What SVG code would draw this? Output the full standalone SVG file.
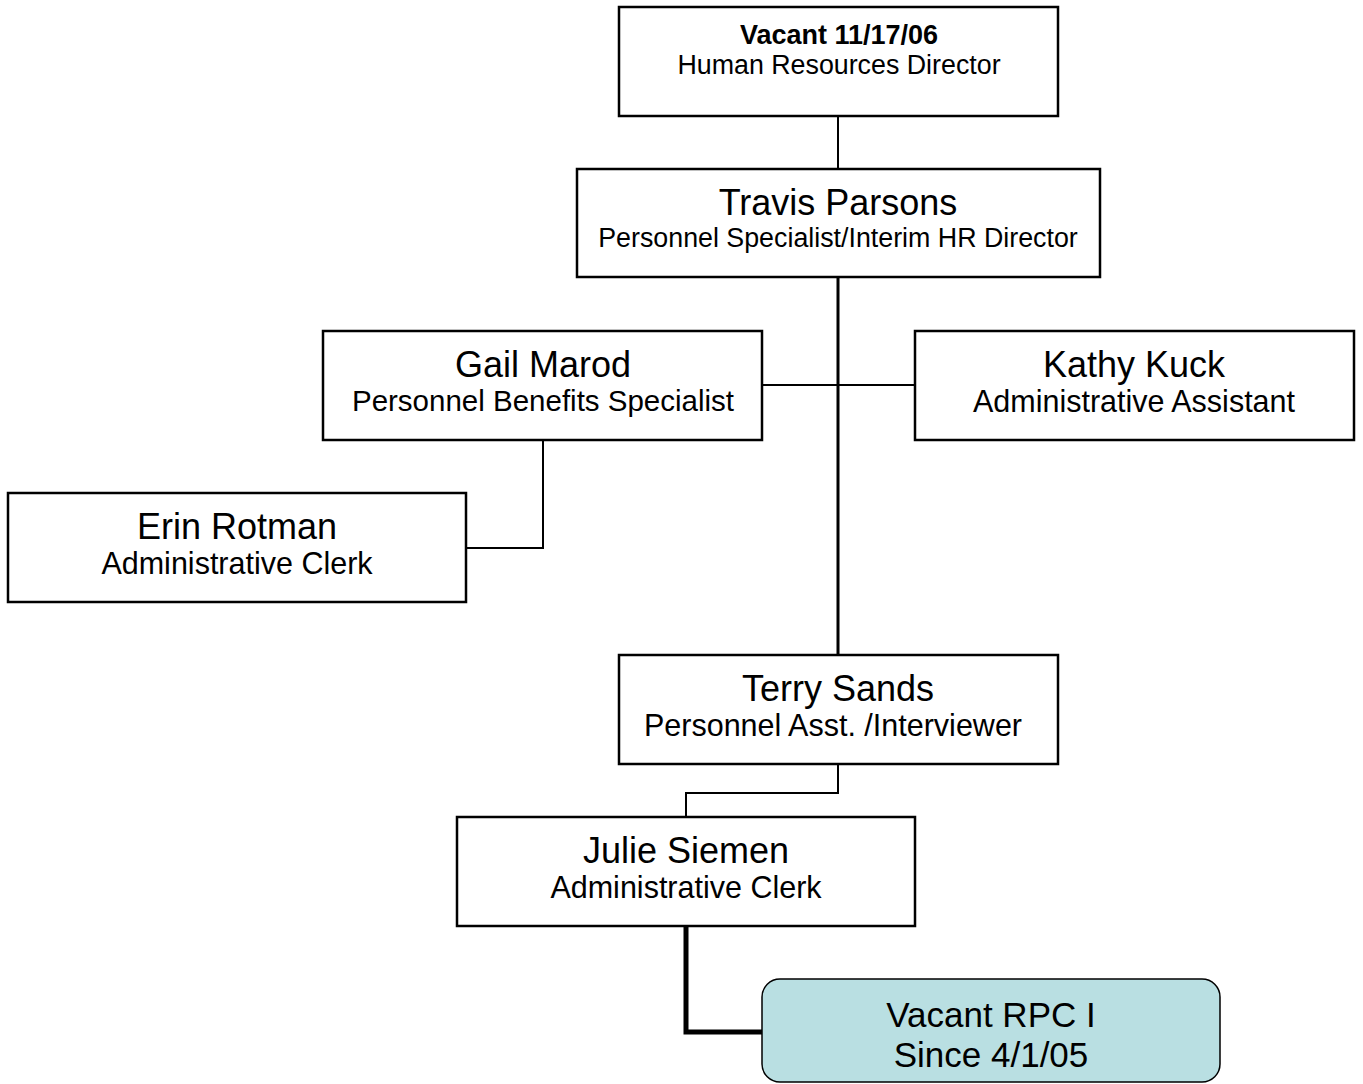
<svg xmlns="http://www.w3.org/2000/svg" width="1363" height="1084" viewBox="0 0 1363 1084">
<style>
.box{fill:#fff;stroke:#000;stroke-width:2.5}
.vac{fill:#b9dfe2;stroke:#000;stroke-width:1.5}
.c{fill:none;stroke:#000;stroke-width:2}
text{font-family:"Liberation Sans",Arial,sans-serif;fill:#000;text-anchor:middle}
.n{font-size:36px}
.t{font-size:30.5px}
.s{font-size:26.8px}
.b{font-size:27px;font-weight:bold}
</style>
<rect width="1363" height="1084" fill="#fff"/>
<g id="connectors">
<path class="c" d="M838 116V169"/>
<path class="c" d="M838 277V655" style="stroke-width:3"/>
<path class="c" d="M762 385H915"/>
<path class="c" d="M543 440V548H466"/>
<path class="c" d="M838 764V793H686V817"/>
<path class="c" d="M686 926V1032H762" style="stroke-width:5"/>
</g>
<g id="hr-director">
<rect class="box" x="619" y="7" width="439" height="109"/>
<text class="b" x="839" y="44">Vacant 11/17/06</text>
<text class="s" x="839" y="74">Human Resources Director</text>
</g>
<g id="travis">
<rect class="box" x="577" y="169" width="523" height="108"/>
<text class="n" x="838" y="215">Travis Parsons</text>
<text class="s" x="838" y="247">Personnel Specialist/Interim HR Director</text>
</g>
<g id="gail">
<rect class="box" x="323" y="331" width="439" height="109"/>
<text class="n" x="543" y="377">Gail Marod</text>
<text class="t" x="543" y="411" style="font-size:29.5px">Personnel Benefits Specialist</text>
</g>
<g id="kathy">
<rect class="box" x="915" y="331" width="439" height="109"/>
<text class="n" x="1134" y="377">Kathy Kuck</text>
<text class="t" x="1134" y="412">Administrative Assistant</text>
</g>
<g id="erin">
<rect class="box" x="8" y="493" width="458" height="109"/>
<text class="n" x="237" y="539">Erin Rotman</text>
<text class="t" x="237" y="574">Administrative Clerk</text>
</g>
<g id="terry">
<rect class="box" x="619" y="655" width="439" height="109"/>
<text class="n" x="838" y="701">Terry Sands</text>
<text class="t" x="833" y="736">Personnel Asst. /Interviewer</text>
</g>
<g id="julie">
<rect class="box" x="457" y="817" width="458" height="109"/>
<text class="n" x="686" y="863">Julie Siemen</text>
<text class="t" x="686" y="898">Administrative Clerk</text>
</g>
<g id="vacant-rpc">
<rect class="vac" x="762" y="979" width="458" height="103" rx="18"/>
<text class="n" x="991" y="1027" style="font-size:35px">Vacant RPC I</text>
<text class="n" x="991" y="1067" style="font-size:35px">Since 4/1/05</text>
</g>
</svg>
